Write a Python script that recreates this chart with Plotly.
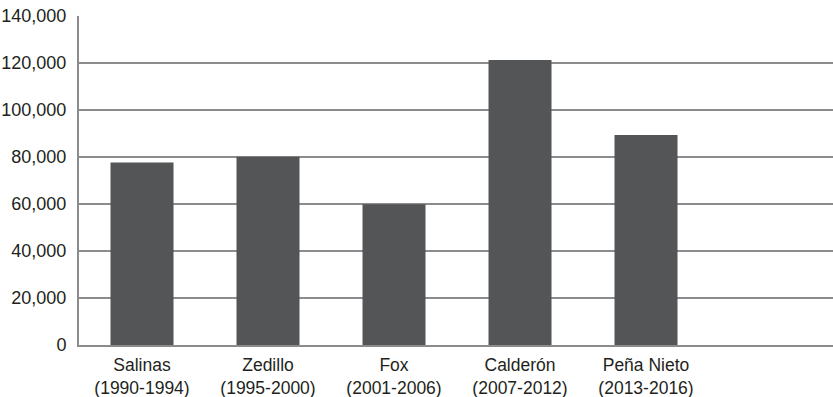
import plotly.graph_objects as go

# Sexenio labels and values
presidents = ["Salinas", "Zedillo", "Fox", "Calderón", "Peña Nieto"]
periods = ["(1990-1994)", "(1995-2000)", "(2001-2006)", "(2007-2012)", "(2013-2016)"]
values = [77700, 80100, 59900, 121300, 89400]

y_ticks = [0, 20000, 40000, 60000, 80000, 100000, 120000, 140000]

labels = [f"{p}<br>{d}" for p, d in zip(presidents, periods)]

fig = go.Figure(
    go.Bar(
        x=labels,
        y=values,
        marker=dict(color="#545557", line=dict(width=0)),
        width=0.5,
    )
)

fig.update_layout(
    width=833,
    height=397,
    margin=dict(l=79, r=0, t=16, b=52),
    paper_bgcolor="white",
    plot_bgcolor="white",
    font=dict(family="Liberation Sans, Arial, sans-serif", size=17, color="#231f20"),
    showlegend=False,
)

fig.update_xaxes(
    type="category",
    range=[-0.5, 5.484],
    showgrid=False,
    showline=True,
    linecolor="#8c8c8e",
    linewidth=2,
    ticks="",
    ticklabelstandoff=3,
    tickfont=dict(size=17.5),
)

fig.update_yaxes(
    range=[0, 140000],
    tickvals=y_ticks,
    tickformat=",",
    showgrid=True,
    gridcolor="#8c8c8e",
    gridwidth=2,
    zeroline=False,
    showline=True,
    linecolor="#8c8c8e",
    linewidth=2,
    ticks="",
    ticklabelstandoff=7,
    tickfont=dict(size=18),
)

fig.write_html("out.html")
